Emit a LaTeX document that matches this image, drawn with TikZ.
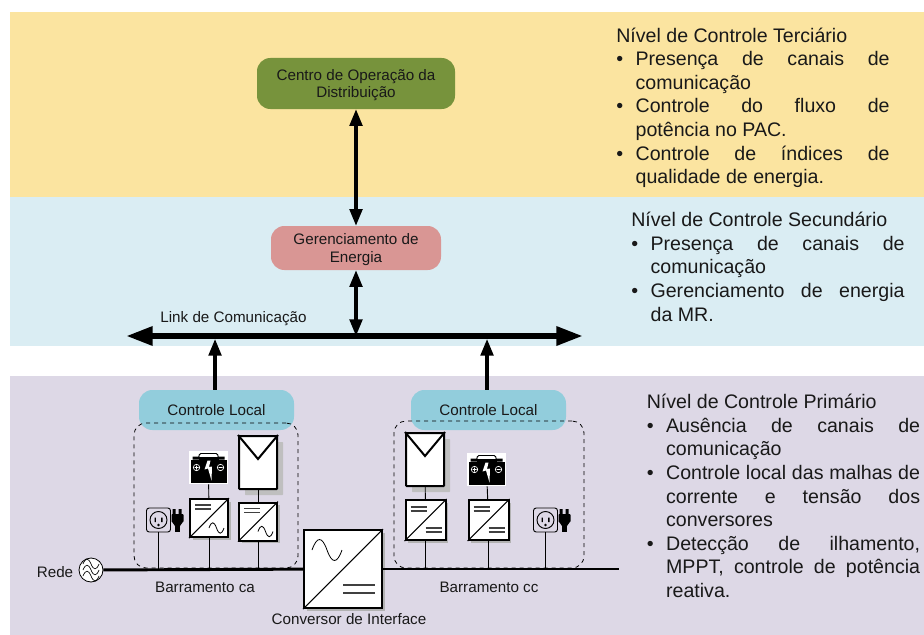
\documentclass[tikz,border=0pt]{standalone}
\usepackage{fontspec}
\setmainfont{Liberation Sans}
\usetikzlibrary{arrows.meta,shadows}
\definecolor{corTerciario}{HTML}{FBE4A0}
\definecolor{corSecundario}{HTML}{DAEDF3}
\definecolor{corPrimario}{HTML}{DDD8E6}
\definecolor{corCentro}{HTML}{77933C}
\definecolor{corGerencia}{HTML}{D99694}
\definecolor{corLocal}{HTML}{92CDDC}
\newcommand{\topico}{\par\hangindent=14.5pt\hangafter=1\noindent\makebox[14.5pt][l]{\textbullet}}
% simbolos dos conversores
\newcommand{\senoide}[4]{\draw[shift={(#1)},shift={(#2,#3)},scale=#4,line width=.6pt]
 (0,0)..controls(2.5,-7) and (5,-7)..(7.5,0)..controls(10,7) and (12.5,7)..(15,0);}
\newcommand{\barras}[4]{\draw[shift={(#1)},shift={(#2,#3)},scale=#4,line width=.8pt,black!75]
 (0,0)--(16,0) (0,4)--(16,4);}
\newcommand{\diagonal}[1]{\draw[line width=.8pt] (#1.south west)--(#1.north east);}
\newcommand{\placa}[1]{\draw[line width=1.5pt,line join=miter]
 (#1.north west)--([yshift=-18pt]#1.north)--(#1.north east);}
\newcommand{\bateria}[1]{
 \begin{scope}[shift={(#1.center)}]
 \fill (-18,-8) rectangle (18,15);
 \fill (-16,-11) rectangle (-9,-8) (9,-11) rectangle (16,-8);
 \draw[line width=.7pt,rounded corners=1pt] (-10,-9)--(-9,-14)--(9,-14)--(10,-9);
 \fill (-10,-11) rectangle (10,-8);
 \draw[white,line width=.5pt] (-12,0) circle (3.2) (12,0) circle (3.2)
 (-14,0)--(-10,0) (-12,-2)--(-12,2) (10,0)--(14,0);
 \fill[white] (-1,-7)--(-4,2)--(-.5,1)--(3,13)--(3.5,-1)--(.5,-.5)--(2,-7)--cycle;
 \end{scope}}
\newcommand{\tomada}[1]{
 \begin{scope}[shift={(#1.center)}]
 \draw[line width=.7pt] (0,0) circle (8.5);
 \fill (-4,-2.5) rectangle (-2.6,2) (2.6,-2.5) rectangle (4,2);
 \fill (0,5) circle (1.3);
 \fill (14,-11) rectangle (17,-5) (20,-11) rectangle (23,-5);
 \fill[rounded corners=.7pt] (13,-6) rectangle (25,2);
 \fill (13,1)--(25,1)--(21.5,6)--(16.5,6)--cycle;
 \fill (16.5,5) rectangle (21.5,12);
 \end{scope}}
\tikzset{
 rotulo/.style={font=\fontsize{11.4}{13.2}\selectfont,text=black!90,align=center},
 bloco/.style={rounded corners=10pt,inner sep=0pt,rotulo,text depth=0pt},
 nivel/.style={anchor=north west,inner sep=0pt,text width=205pt,align=justify,text=black!90,
  font=\fontsize{14.7}{17.7}\selectfont},
 tamanho/.style 2 args={minimum width=#1*.75pt,minimum height=#2*.75pt,inner sep=0pt},
 conversor/.style={draw,line width=1.5pt,fill=white,tamanho={#1}{#1},
  drop shadow={shadow xshift=2pt,shadow yshift=-2pt,fill=black!30,opacity=1}},
 painel/.style={draw,line width=1.5pt,fill=white,rounded corners=.5pt,tamanho={38}{53},
  drop shadow={shadow xshift=4.5pt,shadow yshift=-4.5pt,fill=black!25,opacity=1}},
 caixaBateria/.style={fill=white,tamanho={39}{33}},
 caixaTomada/.style={draw,line width=.7pt,rounded corners=2pt,tamanho={24}{24}},
 grupo/.style={draw,dashed,line width=.6pt,rounded corners=9pt,inner sep=0pt},
 fio/.style={line width=.7pt},
 barramento/.style={line width=2.2pt},
 seta/.style={line width=2.4pt,-{Stealth[length=12.5pt,width=9.5pt,inset=0pt]}},
 setaDupla/.style={line width=2.4pt,{Stealth[length=12.5pt,width=9.5pt,inset=0pt]}-{Stealth[length=12.5pt,width=9.5pt,inset=0pt]}},
 link/.style={line width=4.5pt,{Stealth[length=20pt,width=13.5pt,inset=0pt]}-{Stealth[length=20pt,width=13.5pt,inset=0pt]}},
}
\begin{document}
\begin{tikzpicture}[x=.75pt,y=-.75pt]
 \useasboundingbox (0,0) rectangle (924,635);
 \fill[corTerciario] (10,12) rectangle (924,197);
 \fill[corSecundario] (10,197) rectangle (924,346);
 \fill[corPrimario] (10,376) rectangle (924,635);

 % niveis
 \node[nivel] (nivel3) at (616,27.5) {N\'ivel de Controle Terci\'ario
  \topico Presen\c{c}a de canais de\linebreak comunica\c{c}\~ao
  \topico Controle do fluxo de\linebreak pot\^encia no PAC.
  \topico Controle de \'indices de\linebreak qualidade de energia.\par};
 \node[nivel] (nivel2) at (631,212) {N\'ivel de Controle Secund\'ario
  \topico Presen\c{c}a de canais de\linebreak comunica\c{c}\~ao
  \topico Gerenciamento de energia\linebreak da MR.\par};
 \node[nivel] (nivel1) at (646.5,394) {N\'ivel de Controle Prim\'ario
  \topico Aus\^encia de canais de\linebreak comunica\c{c}\~ao
  \topico Controle local das malhas de\linebreak corrente e tens\~ao dos\linebreak conversores
  \topico Detec\c{c}\~ao de ilhamento,\linebreak MPPT, controle de pot\^encia\linebreak reativa.\par};

 % blocos
 \node[bloco,fill=corCentro,tamanho={198}{51}] (centro) at (356,83.5) {Centro de Opera\c{c}\~ao da\\Distribui\c{c}\~ao};
 \node[bloco,fill=corGerencia,tamanho={170}{44}] (gerencia) at (356,248) {Gerenciamento de\\Energia};
 \node[bloco,fill=corLocal,tamanho={155}{40}] (localCA) at (216.5,410) {Controle Local};
 \node[bloco,fill=corLocal,tamanho={155}{40}] (localCC) at (488.5,410) {Controle Local};
 \node[grupo,tamanho={164}{145}] (grupoCA) at (216,495.5) {};
 \node[grupo,tamanho={190}{147}] (grupoCC) at (489,494.5) {};

 % link
 \coordinate (linkE) at (126,336);
 \coordinate (linkD) at (583,336);
 \node[rotulo,inner sep=0pt] (nomeLink) at (233.5,319) {Link de Comunica\c{c}\~ao};
 \draw[setaDupla] (centro)--(gerencia);
 \draw[setaDupla] (gerencia)--(gerencia|-linkE);
 \draw[seta,shorten >=2.25pt] ([xshift=-1.1pt]localCA.north)--([xshift=-1.1pt]localCA.north|-linkE);
 \draw[seta,shorten >=2.25pt] ([xshift=-1.1pt]localCC.north)--([xshift=-1.1pt]localCC.north|-linkE);
 \draw[link] (linkE)--(linkD);

 % barramentos
 \node[draw,circle,fill=white,line width=.6pt,minimum size=18pt,inner sep=0pt] (rede) at (91,570) {};
 \node[rotulo,inner sep=0pt] (nomeRede) at (55,572) {Rede};
 \foreach \d in {-6,0,6}{
  \draw[line width=.5pt,shift={(rede.center)},shift={(-8,\d)},scale=1.07] (0,0)..controls(2.5,-6) and (5,-6)..(7.5,0)..controls(10,6) and (12.5,6)..(15,0);
 }
 \node[conversor=78] (interface) at (343,569) {};
 \coordinate (fimCC) at (619,569);
 \draw[barramento] (rede)--(interface);
 \draw[barramento] (interface)--(fimCC);
 \diagonal{interface}
 \senoide{interface.center}{-31}{-19}{2}
 \barras{interface.center}{0}{16}{2}
 \node[rotulo,inner sep=0pt] (nomeCA) at (205,587) {Barramento ca};
 \node[rotulo,inner sep=0pt] (nomeCC) at (489,587) {Barramento cc};
 \node[rotulo,inner sep=0pt] (nomeInterface) at (349,619) {Conversor de Interface};

 % lado ca
 \node[caixaTomada] (tomadaCA) at (158.5,520) {};
 \tomada{tomadaCA}
 \node[conversor=38] (conv1) at (209,518) {};
 \node[caixaBateria] (bat1) at (208.5,467.5) {};
 \bateria{bat1}
 \diagonal{conv1}
 \barras{conv1.center}{-14}{-13}{1}
 \senoide{conv1.center}{0}{10}{1}
 \node[conversor=38] (conv2) at (258,521.5) {};
 \node[painel] (pv1) at (258,462.5) {};
 \placa{pv1}
 \diagonal{conv2}
 \barras{conv2.center}{-14}{-13}{1}
 \senoide{conv2.center}{0}{10}{1}
 \draw[fio] (tomadaCA)--(tomadaCA|-rede);
 \draw[fio] (conv1)--(conv1|-rede);
 \draw[fio] (conv1)--(bat1);
 \draw[fio] (conv2)--(conv2|-rede);
 \draw[fio] (conv2)--(pv1);

 % lado cc
 \node[conversor=40] (conv3) at (425.5,520) {};
 \node[painel] (pv2) at (425,459.5) {};
 \placa{pv2}
 \diagonal{conv3}
 \barras{conv3.center}{-15}{-13}{1}
 \barras{conv3.center}{0}{8}{1}
 \node[conversor=40] (conv4) at (488.5,520) {};
 \node[caixaBateria] (bat2) at (486.5,469.5) {};
 \bateria{bat2}
 \diagonal{conv4}
 \barras{conv4.center}{-15}{-13}{1}
 \barras{conv4.center}{0}{8}{1}
 \node[caixaTomada] (tomadaCC) at (545.5,520) {};
 \tomada{tomadaCC}
 \draw[fio] (conv3)--(conv3|-rede);
 \draw[fio] (conv3)--(pv2);
 \draw[fio] (conv4)--(conv4|-rede);
 \draw[fio] (conv4)--(bat2);
 \draw[fio] (tomadaCC)--(tomadaCC|-rede);
\end{tikzpicture}
\end{document}
